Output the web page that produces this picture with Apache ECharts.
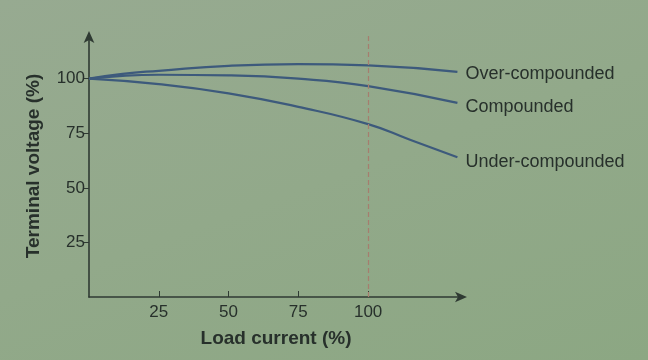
<!DOCTYPE html>
<html>
<head>
<meta charset="utf-8">
<script src="https://cdn.jsdelivr.net/npm/echarts@6/dist/echarts.min.js"></script>
<style>
html,body{margin:0;padding:0;}
#c{width:648px;height:360px;background:linear-gradient(160deg,#97aa91 0%,#92a98a 50%,#8ca783 100%);}
</style>
</head>
<body>
<div id="c"></div>
<script>
// Data
const xTicks = [25, 50, 75, 100];
const yTicks = [25, 50, 75, 100];
const seriesNames = ['Over-compounded', 'Compounded', 'Under-compounded'];
const overCompounded = [[0,100],[12,102.2],[25,103.6],[50,105.9],[75,106.7],[100,106.1],[132,103.1]];
const compounded = [[0,100],[12,101.3],[25,101.8],[50,101.5],[75,100],[100,96.6],[132,88.9]];
const underCompounded = [[0,100],[25,97.5],[50,93.3],[75,87.1],[100,79.2],[115,72],[132,64]];
const ratedLoad = 100;

const lineColor = '#3d5a7c';
const textColor = '#27302b';
const FONT = 'Liberation Sans, Arial, sans-serif';

function mkSeries(name, data, labelDy, withMark) {
  const s = {
    name: name,
    type: 'line',
    data: data,
    smooth: 0.5,
    showSymbol: false,
    lineStyle: { color: lineColor, width: 2.2 },
    endLabel: {
      show: true,
      formatter: name,
      color: textColor,
      fontFamily: FONT,
      fontSize: 18,
      distance: 8,
      offset: [0, labelDy]
    },
    z: 3
  };
  if (withMark) {
    s.markLine = {
      silent: true,
      symbol: 'none',
      label: { show: false },
      lineStyle: { color: '#a67d6e', type: [5, 3], width: 1.2 },
      data: [{ xAxis: ratedLoad }]
    };
  }
  return s;
}

const chart = echarts.init(document.getElementById('c'));
chart.setOption({
  animation: false,
  backgroundColor: 'transparent',
  grid: { left: 89, right: 185, top: 35, bottom: 63, containLabel: false },
  xAxis: {
    type: 'value',
    min: 0, max: 134,
    name: 'Load current (%)',
    nameLocation: 'middle',
    nameGap: 32,
    nameTextStyle: { color: textColor, fontWeight: 'bold', fontSize: 19, fontFamily: FONT },
    splitLine: { show: false },
    axisLine: { show: true, lineStyle: { color: '#2f3a33', width: 1.6 }, symbol: ['none', 'arrow'], symbolSize: [8, 12], symbolOffset: [0, 4] },
    axisTick: { show: true, inside: true, length: 6, customValues: xTicks, lineStyle: { color: '#2f3a33' } },
    axisLabel: { customValues: xTicks, color: textColor, fontSize: 17, margin: 7, fontFamily: FONT }
  },
  yAxis: {
    type: 'value',
    min: 0, max: 120,
    name: 'Terminal voltage (%)',
    nameLocation: 'middle',
    nameGap: 46,
    nameRotate: 90,
    nameTextStyle: { color: textColor, fontWeight: 'bold', fontSize: 19, fontFamily: FONT },
    splitLine: { show: false },
    axisLine: { show: true, lineStyle: { color: '#2f3a33', width: 1.6 }, symbol: ['none', 'arrow'], symbolSize: [8, 12], symbolOffset: [0, 4] },
    axisTick: { show: true, length: 5, customValues: yTicks, lineStyle: { color: '#2f3a33' } },
    axisLabel: { customValues: yTicks, color: textColor, fontSize: 17, margin: 4, fontFamily: FONT }
  },
  series: [
    mkSeries(seriesNames[0], overCompounded, 2, true),
    mkSeries(seriesNames[1], compounded, 4, false),
    mkSeries(seriesNames[2], underCompounded, 5, false)
  ]
});
</script>
</body>
</html>
